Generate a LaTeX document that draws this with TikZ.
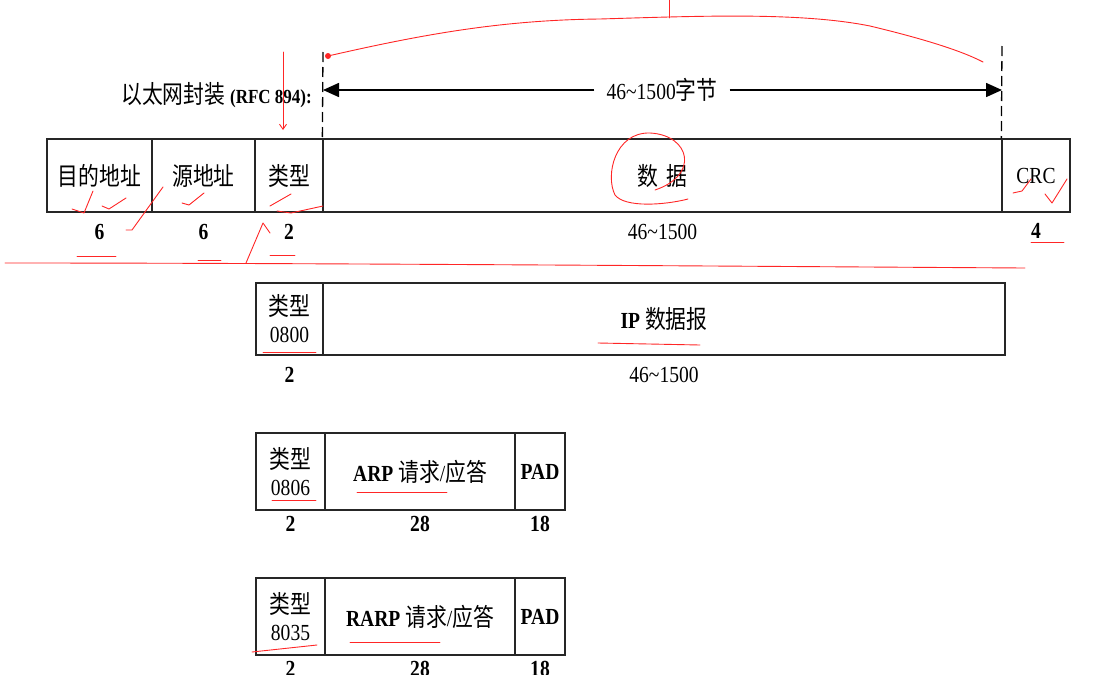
\documentclass[tikz,border=0pt]{standalone}
\usepackage{fontspec}
\setmainfont{Liberation Serif}[FakeStretch=0.85]
\newfontfamily\cjk{Noto Sans CJK SC}[Scale=1.09,FakeStretch=0.83]
\usetikzlibrary{positioning,arrows.meta}
\newcommand{\zhtext}[1]{{\cjk #1}}

\begin{document}
\begin{tikzpicture}
[x=1pt,y=-1pt,
  cellDecorate/.style={shape=rectangle,draw=black!85,line width=1.3pt,inner sep=0pt,
    align=center,font=\fontsize{23}{27}\selectfont},
  numDecorate/.style={inner sep=1pt,font=\fontsize{23}{23}\selectfont\bfseries},
  dashDecorate/.style={line width=1.3pt,dash pattern=on 10pt off 5pt},
  arrowDecorate/.style={line width=1.6pt,-{Triangle[length=16pt,width=14pt]}},
  redDecorate/.style={draw=red!85,line width=0.9pt,line cap=round,line join=round}]
\useasboundingbox (0,0) rectangle (1101,675);
%% ethernet frame
\foreach \cellname/\x/\w/\txt in {
  dst/99.5/105/{\zhtext{目的地址}},
  src/203.5/103/{\zhtext{源地址}},
  type/289/68/{\zhtext{类型}},
  data/662.5/679/{\zhtext{数\hspace{8pt}据}},
  crc/1036/68/CRC}
{
  \node (\cellname) at (\x,175.5) [cellDecorate,minimum width=\w pt,minimum height=73pt] {\txt};
}
\foreach \cellname/\num in {dst/6, src/6, type/2, data/{\mdseries 46\textasciitilde 1500}, crc/4}
{
  \node (\cellname-len) [numDecorate,below=10pt of \cellname] {\num};
}
%% data length
\node (encLabel) at (312,95) [anchor=east,inner sep=0pt,font=\fontsize{23}{23}\selectfont]
  {\zhtext{以太网封装} {\fontsize{20}{20}\selectfont\bfseries (RFC 894):}};
\coordinate (dataTop) at (323,52);
\coordinate (crcTop) at (1002,46);
\draw[dashDecorate] (dataTop) -- (data.north west);
\draw[dashDecorate] (crcTop) -- (crc.north west);
\node (lenLabel) at (662,90) [inner xsep=12pt,inner ysep=2pt,font=\fontsize{23}{23}\selectfont]
  {46\textasciitilde 1500\zhtext{字节}};
\draw[arrowDecorate] (lenLabel.west) -- (lenLabel.west -| dataTop);
\draw[arrowDecorate] (lenLabel.east) -- (lenLabel.east -| crcTop);
%% IP
\node (type2) at (289.5,319) [cellDecorate,minimum width=67pt,minimum height=72pt] {\zhtext{类型}\\0800};
\node (ip) at (664,319) [cellDecorate,minimum width=682pt,minimum height=72pt] {\textbf{IP} \zhtext{数据报}};
\node (type2-len) [numDecorate,below=10pt of type2] {2};
\node (ip-len) [numDecorate,below=10pt of ip] {\mdseries 46\textasciitilde 1500};
%% ARP
\node (type3) at (290.5,471.5) [cellDecorate,minimum width=69pt,minimum height=77pt] {\zhtext{类型}\\0806};
\node (arp) at (420,471.5) [cellDecorate,minimum width=190pt,minimum height=77pt] {\textbf{ARP} \zhtext{请求}/\zhtext{应答}};
\node (pad3) at (540,471.5) [cellDecorate,minimum width=50pt,minimum height=77pt] {\textbf{PAD}};
\foreach \cellname/\num in {type3/2, arp/28, pad3/18}
{
  \node (\cellname-len) [numDecorate,below=4pt of \cellname] {\num};
}
%% RARP
\node (type4) at (290.5,616.5) [cellDecorate,minimum width=69pt,minimum height=77pt] {\zhtext{类型}\\8035};
\node (rarp) at (420,616.5) [cellDecorate,minimum width=190pt,minimum height=77pt] {\textbf{RARP} \zhtext{请求}/\zhtext{应答}};
\node (pad4) at (540,616.5) [cellDecorate,minimum width=50pt,minimum height=77pt] {\textbf{PAD}};
\foreach \cellname/\num in {type4/2, rarp/28, pad4/18}
{
  \node (\cellname-len) [numDecorate,below=4pt of \cellname] {\num};
}
%% red pen marks
\fill[red!85] (328,56) circle (3pt);
\draw[redDecorate] (328,56) .. controls (420,35) and (500,20) .. (600,19)
  .. controls (700,16) and (800,12) .. (870,26) .. controls (920,38) and (960,50) .. (983,62);
\draw[redDecorate] (669,0) -- (669,18);
\draw[redDecorate,-{Straight Barb[length=5pt,width=7pt]}] (283,52) -- (283,130);
\draw[redDecorate] (5,263) .. controls (300,263) and (700,266) .. (1025,268);
\draw[redDecorate] (655,190) .. controls (700,175) and (690,135) .. (650,133)
  .. controls (615,132) and (605,175) .. (615,195) .. controls (625,208) and (665,205) .. (688,199);
\foreach \xa/\xb/\ya/\yb in {77/116/256/256, 198/221/260/260, 270/295/255/255, 1031/1064/242/242,
  263/316/352/352, 272/316/500/500, 252/317/652/645, 357/447/492/492, 350/440/642/642, 598/700/343/345}
{
  \draw[redDecorate] (\xa,\ya) -- (\xb,\yb);
}
\draw[redDecorate] (72,209) -- (84,213) -- (93,191);
\draw[redDecorate] (102,206) -- (109,209) -- (126,198);
\draw[redDecorate] (126,230) -- (132,230) -- (163,187);
\draw[redDecorate] (182,203) -- (189,205) -- (204,193);
\draw[redDecorate] (270,206) -- (291,194);
\draw[redDecorate] (277,211) -- (291,213) -- (323,206);
\draw[redDecorate] (246,263) -- (263,223) -- (270,233);
\draw[redDecorate] (1013,193) -- (1022,191) -- (1031,179);
\draw[redDecorate] (1045,194) -- (1052,203) -- (1067,179);
\end{tikzpicture}
\end{document}
